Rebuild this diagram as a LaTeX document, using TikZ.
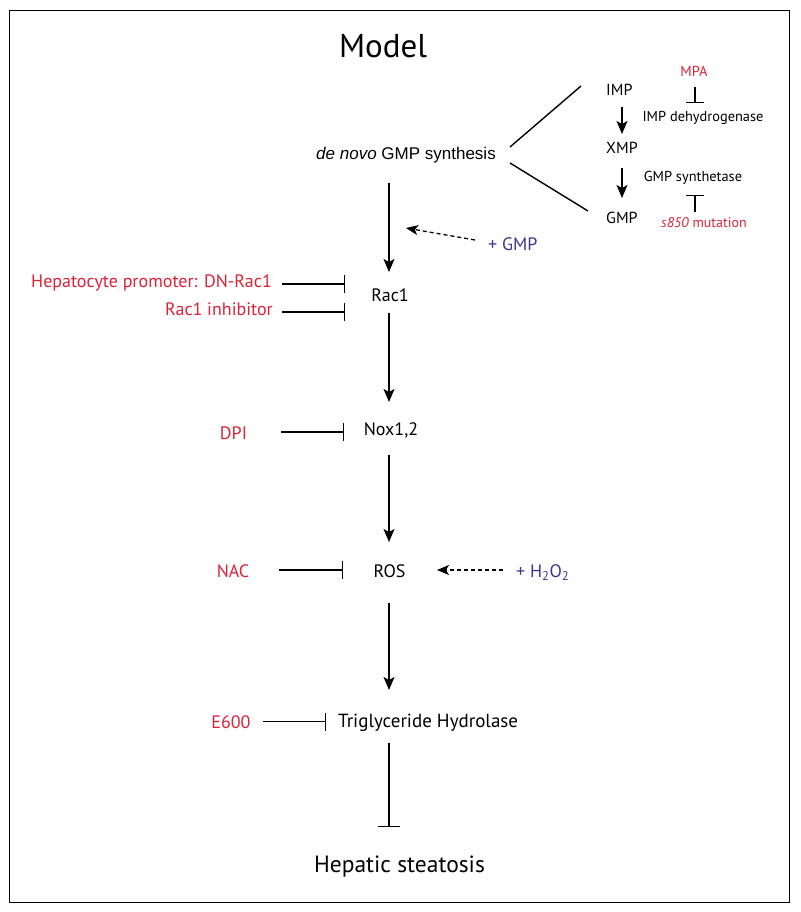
\documentclass[tikz,border=0pt]{standalone}
\usepackage{fontspec}
\setmainfont{PT Sans}
\newfontfamily\arialf{Liberation Sans}
\usetikzlibrary{arrows.meta}
\definecolor{inhred}{RGB}{218,35,55}
\definecolor{addblue}{RGB}{55,55,150}
\begin{document}
\begin{tikzpicture}[x=1pt,y=-1pt,
  txt/.style={inner sep=0pt,anchor=base},
  lbl/.style={txt,font=\fontsize{18}{20}\selectfont},
  sm/.style={txt,font=\fontsize{16}{18}\selectfont},
  tiny/.style={txt,font=\fontsize{14.4}{16}\selectfont},
  redl/.style={lbl,text=inhred},
  bluel/.style={lbl,text=addblue},
  act/.style={line width=1.4pt,-{Stealth[length=13pt,width=11pt,inset=3pt]}},
  inh/.style={line width=1.4pt,-{Bar[width=18pt,line width=1.4pt]}},
  inhbig/.style={line width=1.4pt,-{Bar[width=22pt,line width=1.4pt]}},
  dashedarrow/.style={line width=1.3pt,dash pattern=on 4pt off 3pt,-{Stealth[length=12pt,width=10pt,inset=3pt]}},
  plain/.style={line width=1.4pt}]
\useasboundingbox (0,0) rectangle (800,912);
\draw[line width=1.2pt] (9.5,10.5) rectangle (789.5,902.5);
% title
\node[txt,font=\fontsize{33}{36}\selectfont] (model) at (383,58) {Model};
% de novo branch
\node[txt,font=\arialf\fontsize{17}{19}\selectfont] (denovo) at (406,160) {\textit{de novo} GMP synthesis};
\coordinate (b1) at (510,147);
\coordinate (b2) at (510,163);
\coordinate (t1) at (581,86);
\coordinate (t2) at (588,211);
\draw[plain] (b1) -- (t1);
\draw[plain] (b2) -- (t2);
\node[sm,anchor=base west] (imp) at (606,96) {IMP};
\node[sm,anchor=base west] (xmp) at (606,154) {XMP};
\node[sm,anchor=base west] (gmp) at (606,223) {GMP};
\coordinate (ix1) at (622,107);
\coordinate (ix2) at (622,134);
\coordinate (xg1) at (622,168);
\coordinate (xg2) at (622,198);
\draw[act] (ix1) -- (ix2);
\draw[act] (xg1) -- (xg2);
\node[txt,font=\fontsize{14.5}{16}\selectfont,text=inhred] (mpa) at (694,77) {MPA};
\node[tiny] (impdh) at (703,122) {IMP dehydrogenase};
\node[tiny] (gmps) at (693,182) {GMP synthetase};
\node[txt,font=\fontsize{14}{16}\selectfont,text=inhred] (s850) at (704,227) {\textit{s850} mutation};
\coordinate (m1) at (695,87);
\coordinate (m2) at (695,103);
\coordinate (s1) at (695,212);
\coordinate (s2) at (695,195);
\draw[inh] (m1) -- (m2);
\draw[inh] (s1) -- (s2);
% main column
\node[lbl] (rac1) at (390,301) {Rac1};
\node[lbl] (nox) at (391,435) {Nox1,2};
\node[lbl] (ros) at (389.5,577) {ROS};
\node[lbl,anchor=base west,font=\fontsize{19}{21}\selectfont] (tgh) at (338,727) {Triglyceride Hydrolase};
\node[txt,font=\fontsize{23.5}{26}\selectfont] (hep) at (399.5,872) {Hepatic steatosis};
\coordinate (c1) at (389,183);
\coordinate (c2) at (389,272);
\coordinate (c3) at (389,313);
\coordinate (c4) at (389,402);
\coordinate (c5) at (389,455);
\coordinate (c6) at (389,542);
\coordinate (c7) at (389,603);
\coordinate (c8) at (389,690);
\coordinate (c9) at (389,743);
\coordinate (c10) at (389,827);
\draw[act] (c1) -- (c2);
\draw[act] (c3) -- (c4);
\draw[act] (c5) -- (c6);
\draw[act] (c7) -- (c8);
\draw[inhbig] (c9) -- (c10);
% additions
\node[bluel,anchor=base west] (pgmp) at (488,250) {+ GMP};
\coordinate (g1) at (475,240);
\coordinate (g2) at (406,228);
\draw[dashedarrow] (g1) -- (g2);
\node[bluel,anchor=base west] (ph2o2) at (516,577) {+ H\textsubscript{2}O\textsubscript{2}};
\coordinate (h1) at (503,570);
\coordinate (h2) at (437,570);
\draw[dashedarrow] (h1) -- (h2);
% inhibitors
\node[redl,anchor=base east] (dn) at (272,287) {Hepatocyte promoter: DN-Rac1};
\node[redl,anchor=base east] (ri) at (273,315) {Rac1 inhibitor};
\node[redl] (dpi) at (233.5,439) {DPI};
\node[redl] (nac) at (233,577) {NAC};
\node[redl] (e600) at (231,728) {E600};
\coordinate (i1a) at (282,284);  \coordinate (i1b) at (345,284);
\coordinate (i2a) at (282,312);  \coordinate (i2b) at (345,312);
\coordinate (i3a) at (281,432);  \coordinate (i3b) at (344,432);
\coordinate (i4a) at (279,570);  \coordinate (i4b) at (343,570);
\coordinate (i5a) at (263,721.5);\coordinate (i5b) at (326,721.5);
\draw[inh] (i1a) -- (i1b);
\draw[inh] (i2a) -- (i2b);
\draw[inh] (i3a) -- (i3b);
\draw[inh] (i4a) -- (i4b);
\draw[inh] (i5a) -- (i5b);
\end{tikzpicture}
\end{document}
